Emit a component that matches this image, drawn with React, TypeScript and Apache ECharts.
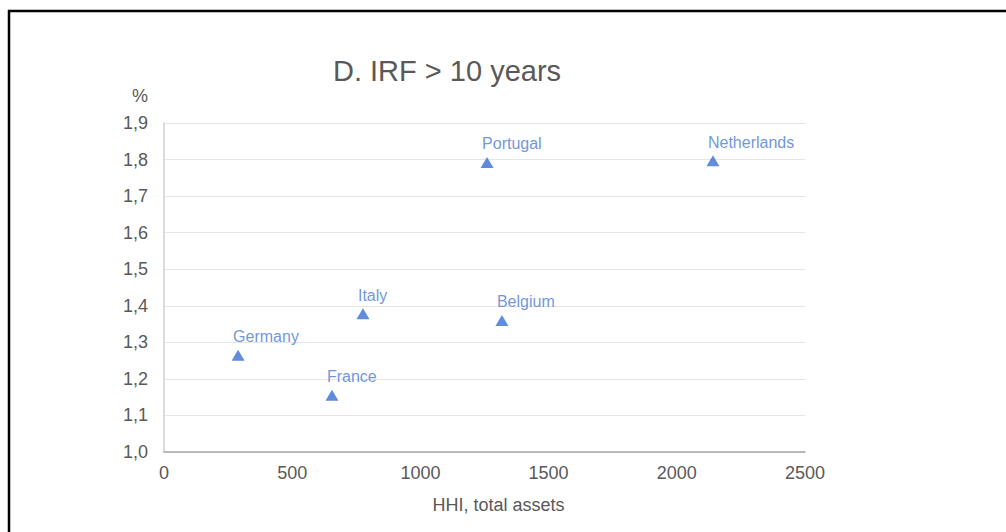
import React, { useEffect, useRef } from "react";
import * as echarts from "echarts";

const countries = ["Germany", "France", "Italy", "Portugal", "Belgium", "Netherlands"];
const hhi = [289, 655, 776, 1260, 1318, 2141];
const irf = [1.265, 1.155, 1.378, 1.792, 1.36, 1.797];

const titleText = "D. IRF > 10 years";
const xName = "HHI, total assets";
const yName = "%";

const FONT = "'Liberation Sans', Arial, sans-serif";

export default function App() {
  const ref = useRef<HTMLDivElement>(null);
  useEffect(() => {
    if (!ref.current) return;
    const chart = echarts.init(ref.current, undefined, { renderer: "svg" });
    const data = countries.map((c, i) => ({ name: c, value: [hhi[i], irf[i]] }));
    chart.setOption({
      animation: false,
      backgroundColor: "#ffffff",
      textStyle: { fontFamily: FONT },
      title: {
        text: titleText,
        left: 328,
        top: 51,
        textStyle: { fontSize: 29, fontWeight: "normal", color: "#595959", fontFamily: FONT },
      },
      grid: { left: 164, right: 201, top: 123, bottom: 80, containLabel: false },
      xAxis: {
        type: "value",
        min: 0,
        max: 2500,
        interval: 500,
        name: xName,
        nameLocation: "middle",
        nameGap: 44,
        nameTextStyle: { fontSize: 18, color: "#595959", fontFamily: FONT, padding: [0, 0, 0, 28] },
        axisLine: { show: true, lineStyle: { color: "#a6a6a6", width: 1.5 } },
        axisTick: { show: false },
        splitLine: { show: false },
        axisLabel: {
          fontSize: 18,
          color: "#595959",
          margin: 12,
          fontFamily: FONT,
          formatter: (v: number) => String(v),
        },
      },
      yAxis: {
        type: "value",
        min: 1.0,
        max: 1.9,
        interval: 0.1,
        name: yName,
        nameLocation: "end",
        nameGap: 18,
        nameTextStyle: { fontSize: 18, color: "#595959", align: "right", padding: [0, 16, 0, 0], fontFamily: FONT },
        axisLine: { show: true, lineStyle: { color: "#d0d0d0", width: 1.5 } },
        axisTick: { show: false },
        splitLine: { show: true, lineStyle: { color: "#e6e6e6", width: 1 } },
        axisLabel: {
          fontSize: 18,
          color: "#595959",
          margin: 16,
          fontFamily: FONT,
          formatter: (v: number) => v.toFixed(1).replace(".", ","),
        },
      },
      series: [
        {
          type: "scatter",
          symbol: "triangle",
          symbolSize: [13, 11],
          itemStyle: { color: "#3a6fd6" },
          data,
          label: {
            show: true,
            position: "top",
            align: "left",
            distance: 5,
            offset: [-5, 0],
            formatter: "{b}",
            fontSize: 16,
            color: "#4a7bd2",
            fontFamily: FONT,
          },
        },
      ],
      graphic: [
        { type: "line", shape: { x1: 8, y1: 11, x2: 1006, y2: 11 }, style: { stroke: "#000", lineWidth: 2.5 } },
        { type: "line", shape: { x1: 9, y1: 10, x2: 9, y2: 532 }, style: { stroke: "#000", lineWidth: 2.5 } },
      ],
    });
    return () => chart.dispose();
  }, []);
  return <div ref={ref} style={{ position: "fixed", left: 0, top: 0, width: 1006, height: 532 }} />;
}
